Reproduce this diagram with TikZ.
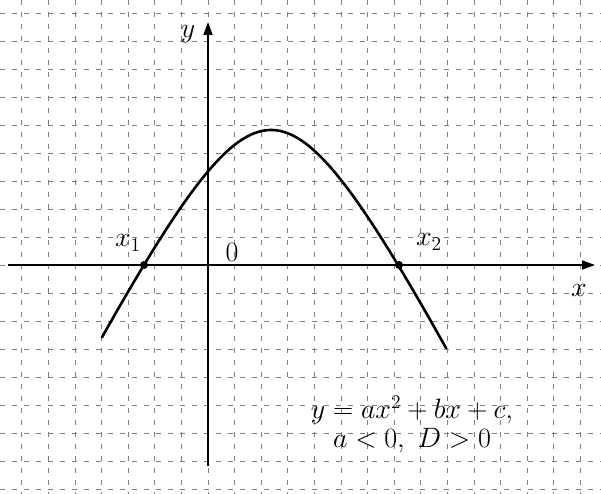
\documentclass[tikz,border=0pt]{standalone}
\usetikzlibrary{arrows.meta}
\begin{document}
\begin{tikzpicture}[x=1pt,y=-1pt,
  gridline/.style={black!50, line width=0.8pt, dash pattern=on 5pt off 7pt},
  axisline/.style={line width=1.8pt, -{Triangle[length=13pt,width=9pt]}},
  curveline/.style={line width=2.6pt, line cap=round},
  lbl/.style={font=\fontsize{20}{24}\selectfont, scale=1.35, inner sep=0pt},
  rootdot/.style={circle, fill=black, inner sep=0pt, minimum size=8pt}]
\useasboundingbox (0,0) rectangle (601,494);
\fill[white] (0,0) rectangle (601,494);
% grid
\foreach \k in {-7,...,14} \draw[gridline] ({208+26.6*\k},0) -- ({208+26.6*\k},494);
\foreach \k in {-9,...,8} \draw[gridline] (0,{265+28*\k}) -- (601,{265+28*\k});
% axes
\coordinate (xs) at (8,265);
\coordinate (xe) at (595,265);
\coordinate (ys) at (208,466);
\coordinate (ye) at (208,22);
\draw[axisline] (xs) -- (xe);
\draw[axisline] (ys) -- (ye);
% parabola
\draw[curveline] plot[domain=-169:175, samples=120]
  ({271+\x}, {130+19.9*(sqrt((\x/10)*(\x/10)+72.25)-8.5)});
\node[rootdot] (r1) at (144,265) {};
\node[rootdot] (r2) at (399,265) {};
% labels
\node[lbl] (ylab) at (188,34) {$y$};
\node[lbl] (xlab) at (579,290) {$x$};
\node[lbl] (zero) at (232,252) {$0$};
\node[lbl] (x1) at (128,243) {$x_1$};
\node[lbl] (x2) at (429,242) {$x_2$};
\node[lbl] (eq1) at (412,410) {$y=ax^2+bx+c,$};
\node[lbl] (eq2) at (412,441) {$a<0,\ D>0$};
\end{tikzpicture}
\end{document}
